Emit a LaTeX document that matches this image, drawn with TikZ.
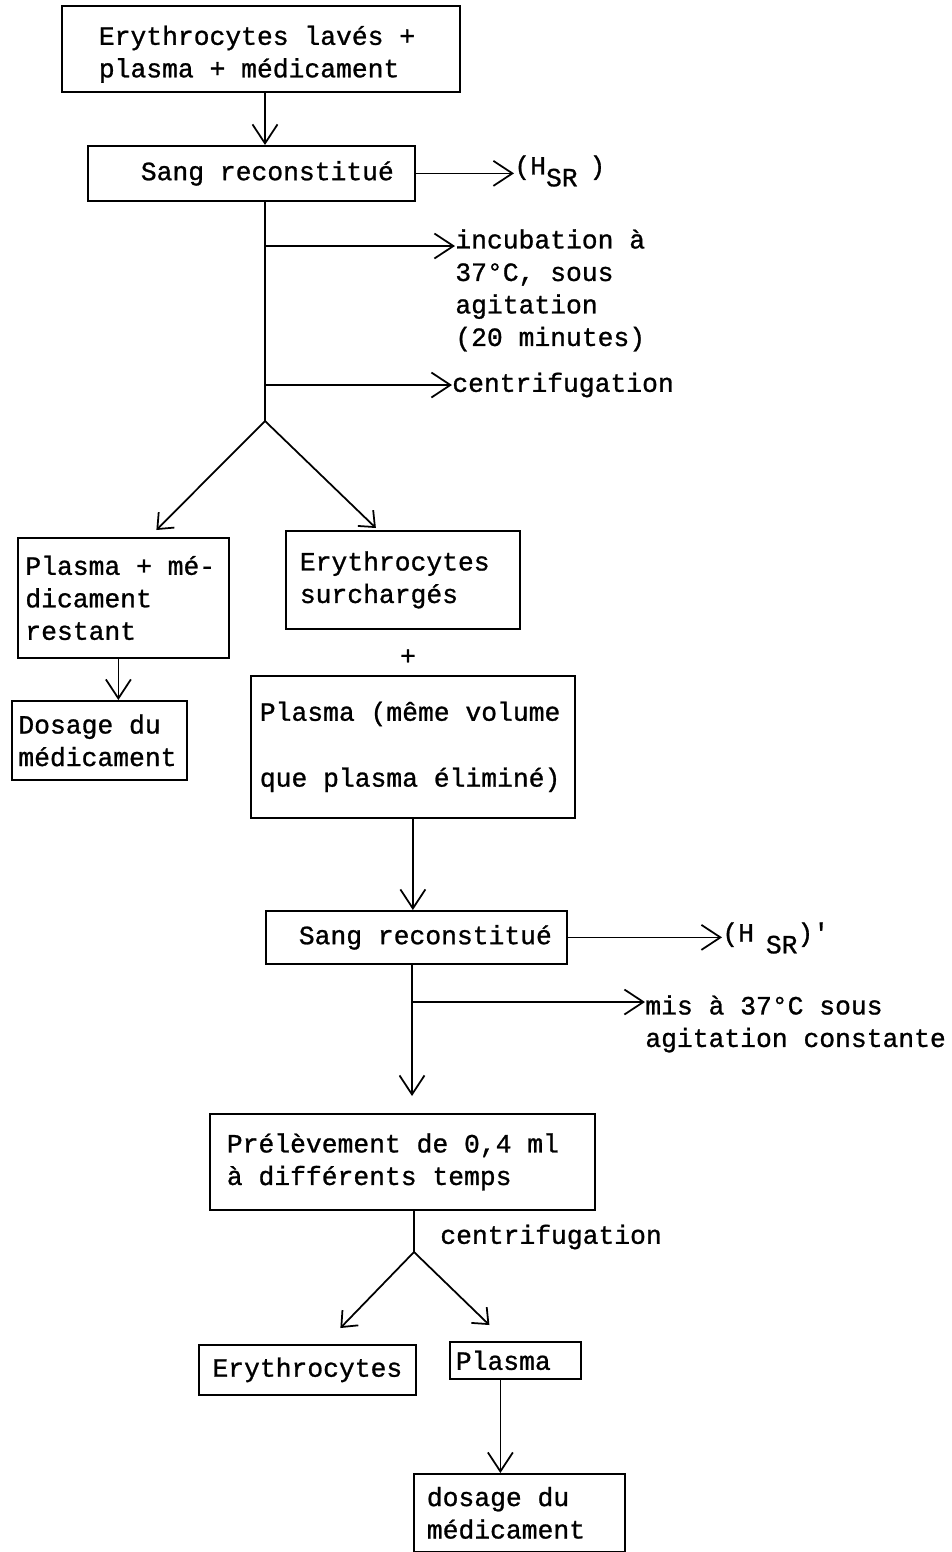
\documentclass[tikz,border=0pt]{standalone}
\usepackage{fontspec}
\setmainfont{Liberation Mono}[WordSpace={1,0,0}, PunctuationSpace=WordSpace, FakeBold=1]
\usepackage{tikz}
\usetikzlibrary{arrows.meta, positioning}

\tikzset{
  boite/.style={draw, line width=1pt, anchor=north west, align=left, inner sep=0pt,
    execute at begin node=\spaceskip 0pt\xspaceskip 0pt\relax},
  etiq/.style={inner sep=0pt, align=left},
  trait/.style={line width=1pt},
  fleche/.style={line width=1pt, -{Straight Barb[length=0.38cm, width=0.5cm]}},
  petitefleche/.style={line width=1pt, -{Straight Barb[length=0.26cm, width=0.44cm]}}
}

\begin{document}
\begin{tikzpicture}[x=0.02cm, y=-0.02cm, font=\fontsize{15}{18.5}\selectfont]
			\useasboundingbox (0,0) rectangle (951,1552);
			% Preparation
			\node[boite, minimum width=398*0.02cm, minimum height=86*0.02cm, text width=324*0.02cm] (b1) at (61,5) {\rule{0pt}{17pt}Erythrocytes lavés +\\plasma + médicament};
			\node[boite, align=right, minimum width=327*0.02cm, minimum height=55*0.02cm, text width=285*0.02cm] (b2) at (87,145) {Sang reconstitué};
			\node[etiq, anchor=west] (hsr1) at (514,171) {(H\raisebox{-0.45em}{SR}\hspace{0.45em})};
			\node[etiq, anchor=north west] (incub) at (455,229) {incubation à\\37°C, sous\\agitation\\(20 minutes)};
			\node[etiq, anchor=west] (centri1) at (452,385) {centrifugation};
			\coordinate (f1) at (265,421);
			\coordinate (r1) at (265,246);
			\coordinate (r2) at (265,385);

			\draw[fleche] (b1.south -| f1) -- (b2.north -| f1);
			\draw[fleche] (b2.east) -- (b2.east -| hsr1.west);
			\draw[trait] (b2.south -| f1) -- (f1);
			\draw[fleche] (r1) -- (r1 -| incub.west);
			\draw[fleche] (r2) -- (centri1.west);

			% Separation
			\node[boite, minimum width=211*0.02cm, minimum height=120*0.02cm, text width=196*0.02cm] (b3) at (17,537) {Plasma + mé-\\dicament\\restant};
			\node[boite, minimum width=234*0.02cm, minimum height=98*0.02cm, text width=206*0.02cm] (b4) at (285,530) {Erythrocytes\\surchargés};
			\node[boite, minimum width=175*0.02cm, minimum height=79*0.02cm, text width=162*0.02cm] (b5) at (11,700) {Dosage du\\médicament};
			\node (plus) at (408,657) {+};
			\node[boite, minimum width=324*0.02cm, minimum height=142*0.02cm, text width=306*0.02cm] (b6) at (250,675) {Plasma (même volume\\[19pt]que plasma éliminé)};

			\draw[petitefleche] (f1) -- ([shift={(33,-7)}]b3.north);
			\draw[petitefleche] (f1) -- ([shift={(-27,-2)}]b4.north);
			\draw[fleche] ([shift={(-5,0)}]b3.south) -- ([shift={(-5,0)}]b3.south |- b5.north);

			% Sang reconstitue
			\node[boite, align=right, minimum width=301*0.02cm, minimum height=53*0.02cm, text width=271*0.02cm] (b7) at (265,910) {Sang reconstitué};
			\node[etiq, anchor=west] (hsr2) at (722,938) {(H\hspace{0.45em}\raisebox{-0.45em}{SR})\textquotesingle};
			\node[etiq, anchor=north west] (mis) at (645,995) {mis à 37°C sous\\agitation constante};
			\node[boite, minimum width=385*0.02cm, minimum height=96*0.02cm, text width=351*0.02cm] (b8) at (209,1113) {Prélèvement de 0,4 ml\\à différents temps};
			\coordinate (r3) at (412,1002);

			\draw[fleche] (b6.south) -- (b6.south |- b7.north);
			\draw[fleche] (b7.east) -- (b7.east -| hsr2.west);
			\draw[fleche] (b7.south -| r3) -- ([shift={(0,-17)}]r3 |- b8.north);
			\draw[fleche] (r3) -- (r3 -| mis.west);

			% Prelevements
			\node[etiq, anchor=west] (centri2) at (440,1237) {centrifugation};
			\coordinate (f3) at (414,1252);
			\node[boite, align=center, minimum width=217*0.02cm, minimum height=50*0.02cm] (b9) at (198,1344) {Erythrocytes};
			\node[boite, minimum width=131*0.02cm, minimum height=37*0.02cm, text width=119*0.02cm] (b10) at (449,1341) {Plasma};
			\node[boite, minimum width=211*0.02cm, minimum height=78*0.02cm, text width=185*0.02cm] (b11) at (413,1473) {dosage du\\médicament};

			\draw[trait] (b8.south -| f3) -- (f3);
			\draw[petitefleche] (f3) -- ([shift={(33,-16)}]b9.north);
			\draw[petitefleche] (f3) -- ([shift={(-26,-16)}]b10.north);
			\draw[fleche] ([shift={(-15,0)}]b10.south) -- ([shift={(-15,0)}]b10.south |- b11.north);
		\end{tikzpicture}
\end{document}
